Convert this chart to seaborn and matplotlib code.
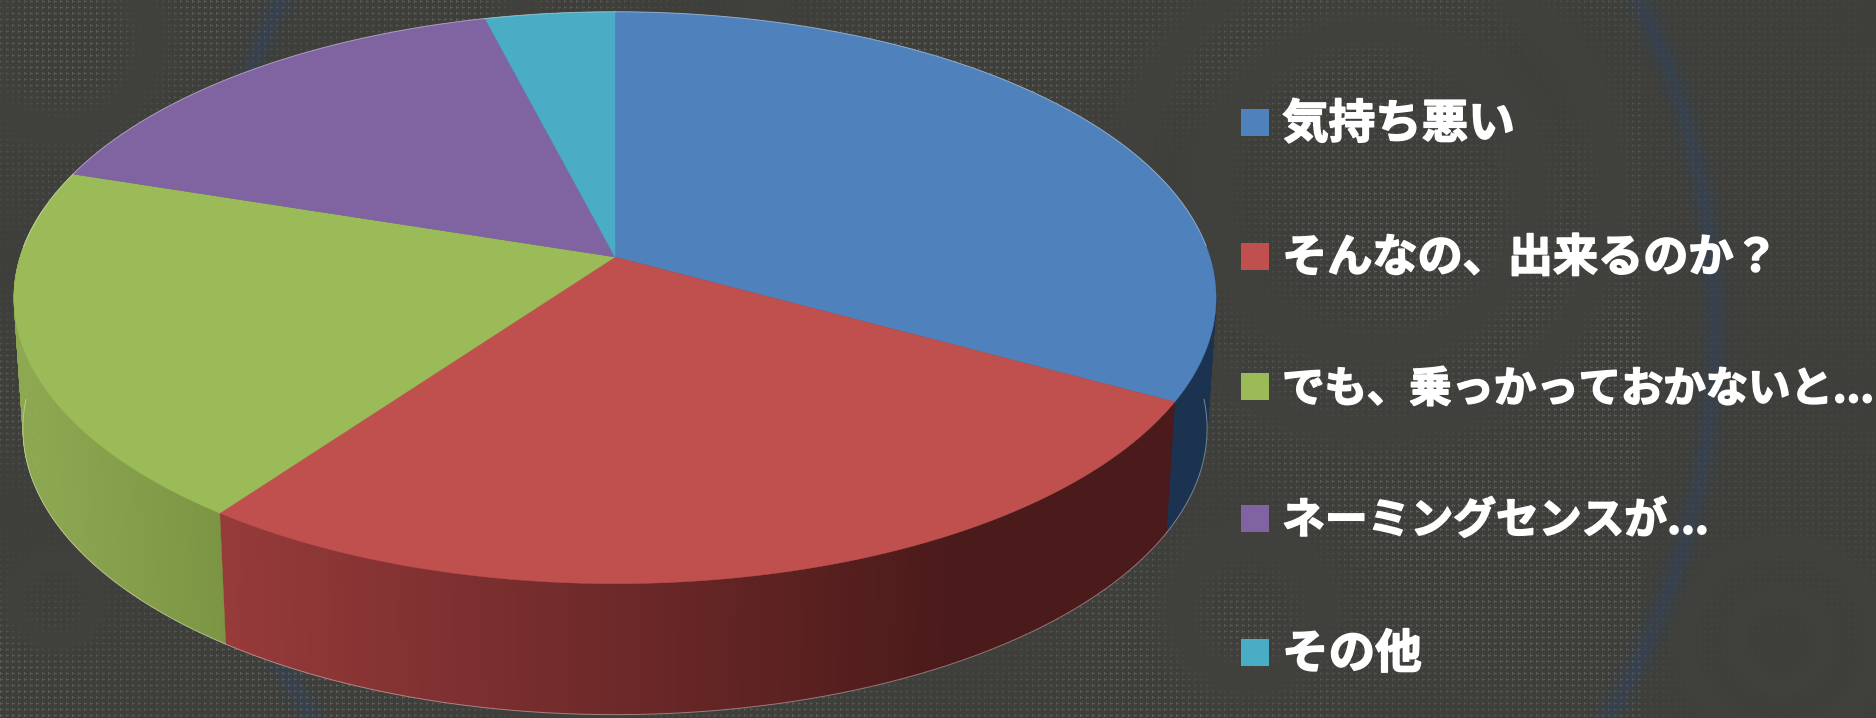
import numpy as np
import matplotlib
matplotlib.use("Agg")
import matplotlib.pyplot as plt
from matplotlib.patches import Patch, Polygon, Circle
from matplotlib import patheffects
import seaborn as sns

labels = ["気持ち悪い", "そんなの、出来るのか？", "でも、乗っかっておかないと...", "ネーミングセンスが...", "その他"]
values = [33, 27, 20, 16, 4]
top_colors = ["#4f81bd", "#c0504d", "#9bbb59", "#8064a2", "#4bacc6"]
wall_start = ["#1b3350", "#963a3a", "#8fa852", "#5a4675", "#2f7488"]
wall_end = ["#1b3350", "#4b1a1a", "#7a9443", "#5a4675", "#2f7488"]
label_sizes = [33.5, 32.5, 30.5, 30.8, 33.5]

sns.set_theme(style="white")
plt.rcParams["font.family"] = ["Noto Sans CJK JP", "DejaVu Sans"]

W, H = 1876, 718
fig = plt.figure(figsize=(W / 100, H / 100), dpi=100)
ax = fig.add_axes([0, 0, 1, 1])
ax.set_xlim(0, W)
ax.set_ylim(H, 0)
ax.axis("off")


# circle -> tilted disc, with some perspective so the apex sits above the ellipse centre
def project(theta):
    t = np.radians(theta)
    x, y = np.sin(t), np.cos(t)
    d = 1 + 0.1423 * y
    return 615 + 595 * x / d, (257 - 243.6 * y) / d


def lower(px, py):
    return 615 + (px - 615) * 0.985, py + 131


# background, just a dotted weave with darker patches and swirls
yy, xx = np.mgrid[0:H, 0:W]
weave = ((xx % 6 == 0) & (yy % 6 < 3)) | ((yy % 6 == 1) & (xx % 6 < 3))
mask = 0.55 + 0.45 * np.sin(xx / 95 + np.sin(yy / 130) * 2) * np.cos(yy / 80 - xx / 210)
mask = np.clip(mask * 1.5 - 0.1, 0, 1)
mask[xx > 1640] *= 0.35
flat = np.zeros((H, W))
for cx, cy, r, w in [(1780, 640, 45, 14), (1780, 640, 95, 16), (55, 600, 40, 14), (1370, 190, 160, 30),
                     (1370, 190, 240, 28), (1250, 610, 70, 30), (640, 20, 120, 30), (60, 40, 90, 30)]:
    dist = np.hypot(xx - cx, yy - cy)
    ring = np.exp(-((dist - r) / w) ** 2)
    mask = mask * (1 - ring)
    flat = flat + ring
bg = 61 + 30 * weave * mask + 3 * np.clip(flat, 0, 1)
bg_rgb = np.dstack([bg + 1, bg + 2, bg - 2]) / 255
ax.imshow(bg_rgb, extent=(0, W, H, 0), aspect="auto", zorder=0, interpolation="nearest")
for lw, alpha in [(22, 0.08), (12, 0.1), (5, 0.14)]:
    ax.add_patch(Circle((960, 330), 755, fill=False, ec="#2a4a80", lw=lw, alpha=alpha, zorder=1))

# wedge limits from the values, clockwise from 12 o'clock
bounds = np.cumsum([0] + values) / sum(values) * 360

# side walls first, only the front half can be seen
for i in range(len(values)):
    a0, a1 = max(bounds[i], 80), min(bounds[i + 1], 280)
    if a1 <= a0:
        continue
    n = int((a1 - a0) * 2) + 2
    edges = np.linspace(a0, a1, n + 1)
    shades = sns.blend_palette([wall_start[i], wall_end[i]], 256)
    for j in range(n):
        tx, ty = project(np.linspace(edges[j], edges[j + 1] + 0.3, 4))
        bx, by = lower(tx, ty)
        if i == 1:
            # red runs dark towards the right, follow the screen x
            frac = np.clip((225 - tx.mean()) / (225 - 950), 0, 1)
        else:
            frac = np.clip(abs(tx.mean() - 20) / 210, 0, 1)
        colour = shades[int(frac * 255)]
        pts = np.column_stack([np.r_[tx, bx[::-1]], np.r_[ty, by[::-1]]])
        ax.add_patch(Polygon(pts, closed=True, fc=colour, ec=colour, lw=0.3, zorder=2))
    # thin light rim along the bottom edge, silhouette only
    rim = edges[(edges > 92) & (edges < 268)]
    rx, ry = lower(*project(rim))
    ax.plot(rx, ry, color="white", alpha=0.4, lw=0.7, zorder=2.5)

# top face
for i in range(len(values)):
    th = np.linspace(bounds[i], bounds[i + 1], 200)
    px, py = project(th)
    pts = np.column_stack([np.r_[615, px], np.r_[257, py]])
    ax.add_patch(Polygon(pts, closed=True, fc=top_colors[i], ec=top_colors[i], lw=0.3, zorder=3))
    back = (th < 88) | (th > 272)
    ax.plot(px[back], py[back], color="white", alpha=0.4, lw=0.7, zorder=4)

handles = [Patch(fc=c, ec="none", label=l) for c, l in zip(top_colors, labels)]
leg = ax.legend(
    handles=handles,
    loc="upper left",
    bbox_to_anchor=(1241 / W, 1 - 100 / H),
    frameon=False,
    labelcolor="white",
    prop={"family": ["Noto Sans CJK JP", "DejaVu Sans"], "weight": "bold", "size": 31.5},
    handlelength=0.64,
    handleheight=0.57,
    handletextpad=0.3,
    labelspacing=2.0,
    borderpad=0,
    borderaxespad=0,
)
for txt, size in zip(leg.get_texts(), label_sizes):
    txt.set_fontsize(size)
    txt.set_path_effects([patheffects.withStroke(linewidth=1.2, foreground="white")])

fig.savefig("out.png", dpi=100)
